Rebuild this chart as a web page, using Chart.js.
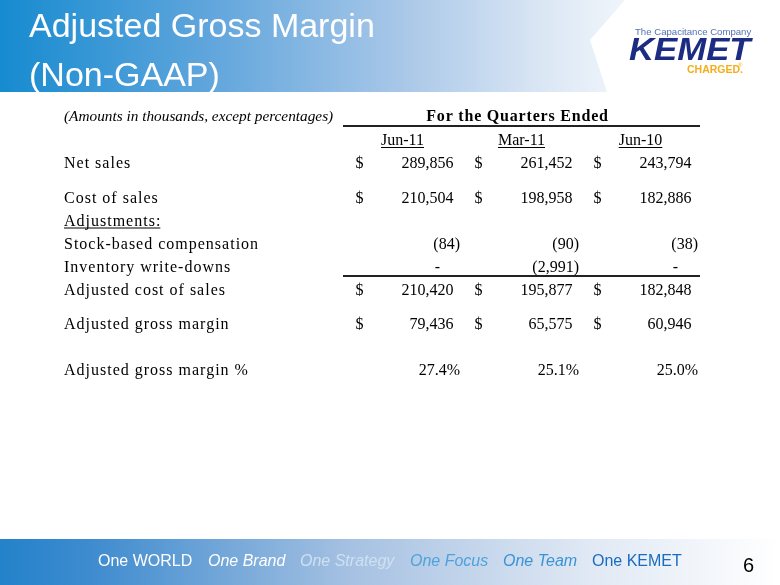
<!DOCTYPE html>
<html>
<head>
<meta charset="utf-8">
<script src="https://cdn.jsdelivr.net/npm/chart.js@4.4.1/dist/chart.umd.min.js"></script>
<style>
  body { margin: 0; background: #fff; }
  #slide { position: absolute; left: 0; top: 0; }
</style>
</head>
<body>
<canvas id="slide" width="780" height="585"></canvas>
<script>
// table data
var quarters = ['Jun-11', 'Mar-11', 'Jun-10'];
var rows = ['Net sales', '', '', 'Cost of sales', '', 'Adjustments:', '', 'Stock-based compensation', '',
	'Inventory write-downs', '', 'Adjusted cost of sales', '', '', 'Adjusted gross margin', '', '', '',
	'Adjusted gross margin %'];

var netSales = [289856, 261452, 243794];
var costOfSales = [210504, 198958, 182886];
var stockComp = [-84, -90, -38];
var inventoryWriteDowns = [0, -2991, 0];
var adjCostOfSales = [210420, 195877, 182848];
var adjGrossMargin = [79436, 65575, 60946];
var adjGrossMarginPct = [27.4, 25.1, 25.0];

var title = ['Adjusted Gross Margin', '(Non-GAAP)'];
var note = '(Amounts in thousands, except percentages)';
var groupTitle = 'For the Quarters Ended';
var slogans = ['One WORLD', 'One Brand', 'One Strategy', 'One Focus', 'One Team', 'One KEMET'];
var pageNumber = '6';

var rowValues = {
	'Net sales': netSales,
	'Cost of sales': costOfSales,
	'Stock-based compensation': stockComp,
	'Inventory write-downs': inventoryWriteDowns,
	'Adjusted cost of sales': adjCostOfSales,
	'Adjusted gross margin': adjGrossMargin,
	'Adjusted gross margin %': adjGrossMarginPct
};
var dollarRows = ['Net sales', 'Cost of sales', 'Adjusted cost of sales', 'Adjusted gross margin'];

var SERIF = '"Liberation Serif", "Times New Roman", serif';
var SANS = '"Liberation Sans", Arial, sans-serif';

function fmt(v, pct) {
	if (pct) return v.toFixed(1) + '%';
	if (v === 0) return '-';
	var s = Math.abs(v).toLocaleString('en-US');
	return v < 0 ? '(' + s + ')' : s;
}

var slidePlugin = {
	id: 'slide',
	beforeDraw: function(chart) {
		var ctx = chart.ctx;
		ctx.save();
		ctx.fillStyle = '#fff';
		ctx.fillRect(0, 0, chart.width, chart.height);

		// title banner
		var g = ctx.createLinearGradient(0, 0, 625, 0);
		g.addColorStop(0, '#168bd0');
		g.addColorStop(0.33, '#5fa5dc');
		g.addColorStop(0.65, '#aac8e8');
		g.addColorStop(0.88, '#dde8f5');
		g.addColorStop(1, '#f0f5fb');
		ctx.fillStyle = g;
		ctx.beginPath();
		ctx.moveTo(0, 0);
		ctx.lineTo(625, 0);
		ctx.lineTo(590, 40);
		ctx.lineTo(607, 92);
		ctx.lineTo(0, 92);
		ctx.closePath();
		ctx.fill();

		// footer band
		var f = ctx.createLinearGradient(0, 0, 780, 0);
		f.addColorStop(0, '#2382ca');
		f.addColorStop(0.12, '#3f8ccf');
		f.addColorStop(0.45, '#a6c1e2');
		f.addColorStop(0.75, '#dfe8f4');
		f.addColorStop(1, '#ffffff');
		ctx.fillStyle = f;
		ctx.fillRect(0, 539, 780, 46);
		ctx.restore();
	},
	afterDraw: function(chart) {
		var ctx = chart.ctx;
		var x = chart.scales.x, y = chart.scales.y, area = chart.chartArea;
		ctx.save();

		// title
		ctx.fillStyle = '#fff';
		ctx.font = '34px ' + SANS;
		ctx.textAlign = 'left';
		ctx.fillText(title[0], 29, 37);
		ctx.fillText(title[1], 29, 86);

		// logo
		ctx.fillStyle = '#5570b4';
		ctx.font = '9.6px ' + SANS;
		ctx.fillText('The Capacitance Company', 635, 35);
		ctx.save();
		ctx.translate(629, 60);
		ctx.scale(1.12, 1);
		ctx.fillStyle = '#1c2c82';
		ctx.font = 'italic bold 31px ' + SANS;
		ctx.fillText('KEMET', 0, 0);
		ctx.restore();
		ctx.fillStyle = '#f5ad1c';
		ctx.font = 'bold 10.5px ' + SANS;
		ctx.fillText('CHARGED.', 687, 73);
		ctx.font = '6px ' + SANS;
		ctx.fillText('\u00ae', 738, 67);

		// table header
		ctx.fillStyle = '#000';
		ctx.font = 'italic 15.3px ' + SERIF;
		ctx.fillText(note, 64, 121);
		ctx.letterSpacing = '0.8px';
		ctx.font = 'bold 16px ' + SERIF;
		ctx.textAlign = 'center';
		ctx.fillText(groupTitle, x.getPixelForValue(1) - 4, 121);
		ctx.letterSpacing = '0px';

		ctx.strokeStyle = '#222';
		ctx.lineWidth = 2;
		ctx.beginPath();
		ctx.moveTo(area.left, 126);
		ctx.lineTo(area.right, 126);
		var mid = (y.getPixelForValue(9) + y.getPixelForValue(11)) / 2 - 1;
		ctx.moveTo(area.left, mid);
		ctx.lineTo(area.right, mid);
		ctx.stroke();

		ctx.font = '16px ' + SERIF;
		ctx.lineWidth = 1;
		ctx.strokeStyle = '#000';
		quarters.forEach(function(q, j) {
			var cx = x.getPixelForValue(j);
			var w = ctx.measureText(q).width;
			ctx.fillText(q, cx, 145);
			ctx.beginPath();
			ctx.moveTo(cx - w / 2, 147.5);
			ctx.lineTo(cx + w / 2, 147.5);
			ctx.stroke();
		});

		// rows
		rows.forEach(function(label, i) {
			if (!label) return;
			var py = y.getPixelForValue(i) + 6;
			ctx.textAlign = 'left';
			ctx.letterSpacing = '1px';
			ctx.fillText(label, 64, py);
			if (label === 'Adjustments:') {
				var w = ctx.measureText(label).width;
				ctx.beginPath();
				ctx.moveTo(64, py + 2.5);
				ctx.lineTo(64 + w - 1, py + 2.5);
				ctx.stroke();
			}
			ctx.letterSpacing = '0px';
			var vals = rowValues[label];
			if (!vals) return;
			var pct = label.indexOf('%') >= 0;
			vals.forEach(function(v, j) {
				var cx = x.getPixelForValue(j);
				if (dollarRows.indexOf(label) >= 0) {
					ctx.textAlign = 'left';
					ctx.fillText('$', cx - 47, py);
				}
				var s = fmt(v, pct);
				if (s === '-') {
					ctx.textAlign = 'center';
					ctx.fillText(s, cx + 35, py);
				} else if (pct || v < 0) {
					ctx.textAlign = 'right';
					ctx.fillText(s, cx + 57.5, py);
				} else {
					ctx.textAlign = 'right';
					ctx.fillText(s, cx + 51, py);
				}
			});
		});

		// footer slogans
		var sx = [98, 208, 300, 410, 503, 592];
		var sc = ['#ffffff', '#ffffff', '#cfe0f2', '#4ea3dc', '#3b93d3', '#1b6cc0'];
		ctx.textAlign = 'left';
		slogans.forEach(function(s, k) {
			var italic = k > 0 && k < 5;
			ctx.font = (italic ? 'italic ' : '') + '16px ' + SANS;
			ctx.fillStyle = sc[k];
			ctx.fillText(s, sx[k], 566);
		});
		ctx.fillStyle = '#000';
		ctx.font = '20px ' + SANS;
		ctx.fillText(pageNumber, 743, 572);
		ctx.restore();
	}
};

var ctx = document.getElementById('slide');
var chart = new Chart(ctx, {
	type: 'line',
	data: {
		labels: quarters,
		datasets: []
	},
	options: {
		responsive: false,
		animation: false,
		devicePixelRatio: 1,
		layout: { padding: { left: 343, right: 80, top: 162, bottom: 216 } },
		plugins: { legend: { display: false }, tooltip: { enabled: false } },
		scales: {
			x: { type: 'category', labels: quarters, offset: true, display: false },
			y: { type: 'category', labels: rows, offset: false, display: false }
		}
	},
	plugins: [slidePlugin]
});
</script>
</body>
</html>
